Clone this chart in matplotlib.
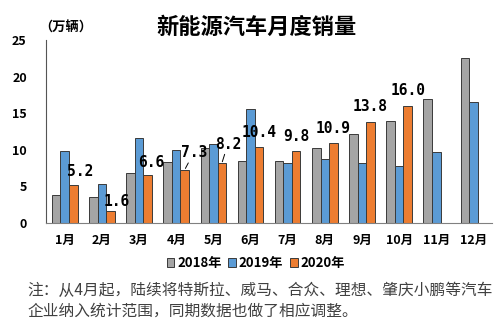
import matplotlib.pyplot as plt
import numpy as np

plt.rcParams['font.family'] = ['Noto Sans CJK SC', 'DejaVu Sans']

months = ['1月', '2月', '3月', '4月', '5月', '6月', '7月', '8月', '9月', '10月', '11月', '12月']
sales_2018 = [3.9, 3.5, 6.9, 8.3, 10.3, 8.5, 8.5, 10.2, 12.2, 13.9, 17.0, 22.6]
sales_2019 = [9.8, 5.4, 11.6, 10.0, 10.8, 15.6, 8.2, 8.7, 8.2, 7.8, 9.7, 16.6]
sales_2020 = [5.2, 1.6, 6.6, 7.3, 8.2, 10.4, 9.8, 10.9, 13.8, 16.0]

# label offsets in pixels (dx, dy) relative to top of 2020 bar
lbl_off = [(7, 14), (6, 10), (4, 12), (9, 17), (6, 19), (0, 14), (0, 15), (0, 15), (0, 16), (0, 15)]

fig = plt.figure(figsize=(5.02, 3.29), dpi=100)
ax = fig.add_axes([0.092, 0.322, 0.888, 0.556])

x = np.arange(len(months))
w = 0.23
ec = '#3a3a3a'
ax.bar(x - w, sales_2018, w, color='#a5a5a5', edgecolor=ec, linewidth=0.7, label='2018年')
ax.bar(x, sales_2019, w, color='#5b9bd5', edgecolor=ec, linewidth=0.7, label='2019年')
x20 = x[:len(sales_2020)] + w
ax.bar(x20, sales_2020, w, color='#ed7d31', edgecolor=ec, linewidth=0.7, label='2020年')

for i, (xi, v) in enumerate(zip(x20, sales_2020)):
    dx, dy = lbl_off[i]
    arrow = dict(arrowstyle='-', color='black', lw=0.7, shrinkA=0, shrinkB=1) if i in (3, 4) else None
    ax.annotate(f'{v:.1f}', xy=(xi, v), xytext=(dx, dy), textcoords='offset pixels',
                ha='center', va='center', fontsize=10.5, fontweight='bold',
                family='DejaVu Sans Mono', arrowprops=arrow)

ax.set_xlim(-0.5, 11.5)
ax.set_ylim(0, 25)
ax.set_yticks([0, 5, 10, 15, 20, 25])
ax.set_xticks(x)
ax.set_xticklabels(months, fontsize=9, fontweight='bold')
for t in ax.get_yticklabels():
    t.set_fontweight('bold')
    t.set_fontsize(9)
ax.tick_params(length=0, pad=8)
ax.tick_params(axis='y', pad=14)
ax.spines['top'].set_visible(False)
ax.spines['right'].set_visible(False)
ax.spines['left'].set_color('#555555')
ax.spines['bottom'].set_color('#808080')

ax.legend(loc='center', bbox_to_anchor=(0.47, -0.22), ncol=3, frameon=False,
          handlelength=0.6, handleheight=0.6, handletextpad=0.2, columnspacing=0.5,
          prop={'weight': 'bold', 'size': 9.5})

fig.text(0.51, 0.918, '新能源汽车月度销量', ha='center', va='center', fontsize=16, fontweight='bold')
fig.text(0.078, 0.915, '（万辆）', ha='left', va='center', fontsize=9.5, fontweight='bold')

fig.text(0.054, 0.085, '注：从4月起，陆续将特斯拉、威马、合众、理想、肇庆小鹏等汽车\n企业纳入统计范围，同期数据也做了相应调整。',
         ha='left', va='center', fontsize=11.3, color='#404040', linespacing=1.25)

fig.savefig('out.png', dpi=100)
